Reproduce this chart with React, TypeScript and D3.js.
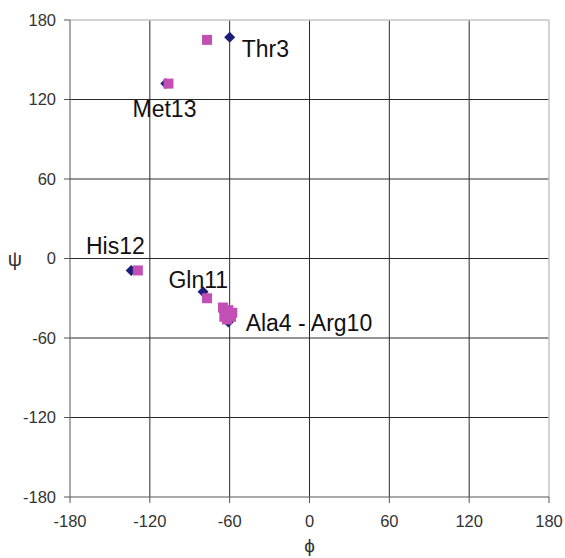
import React from "react";
import * as d3 from "d3";

const residuesA = ["Thr3", "Ala4", "Lys5", "Phe6", "Glu7", "Arg8", "Gln9", "Arg10", "Gln11", "His12", "Met13"];
const phiA = [-60, -62, -60, -63, -61, -59, -64, -61, -80, -134, -108];
const psiA = [167, -40, -43, -45, -48, -42, -41, -46, -25, -9, 132];
const phiB = [-77, -65, -61, -63, -59, -62, -58, -64, -77, -129, -106];
const psiB = [165, -37, -39, -42, -44, -46, -41, -44, -30, -9, 132];

const labelText = ["Thr3", "Met13", "His12", "Gln11", "Ala4 - Arg10"];
const labelPhi = [-51, -133, -168, -106, -48];
const labelPsi = [152, 107, 3.5, -22, -55];

const ticks = [-180, -120, -60, 0, 60, 120, 180];

const W = 565, H = 558;
const left = 70, right = 549, top = 20, bottom = 497;

export default function App() {
  const x = d3.scaleLinear().domain([-180, 180]).range([left, right]);
  const y = d3.scaleLinear().domain([-180, 180]).range([bottom, top]);
  const font = "'Liberation Sans', Arial, sans-serif";
  const sq = 10;
  const dia = "M0,-5.5L5.5,0L0,5.5L-5.5,0Z";
  return (
    <svg width={W} height={H} style={{ position: "absolute", left: 0, top: 0, background: "#fff" }}>
      {ticks.slice(1, -1).map((t) => (
        <g key={"g" + t}>
          <line x1={x(t)} x2={x(t)} y1={top} y2={bottom} stroke="#2a2a2a" strokeWidth={1} />
          <line x1={left} x2={right} y1={y(t)} y2={y(t)} stroke="#2a2a2a" strokeWidth={1} />
        </g>
      ))}
      <line x1={left} x2={right} y1={top} y2={top} stroke="#c4c4c4" strokeWidth={1.5} />
      <line x1={right} x2={right} y1={top} y2={bottom} stroke="#c4c4c4" strokeWidth={1.5} />
      <line x1={left} x2={left} y1={top} y2={bottom} stroke="#555" strokeWidth={1} />
      <line x1={left} x2={right} y1={bottom} y2={bottom} stroke="#555" strokeWidth={1} />
      {ticks.map((t) => (
        <g key={"t" + t}>
          <line x1={left - 6} x2={left} y1={y(t)} y2={y(t)} stroke="#555" />
          <line x1={x(t)} x2={x(t)} y1={bottom} y2={bottom + 6} stroke="#555" />
          <text x={left - 14} y={y(t)} dy="0.35em" textAnchor="end" fontFamily={font} fontSize={16.5} fill="#333">{t}</text>
          <text x={x(t)} y={bottom + 30} textAnchor="middle" fontFamily={font} fontSize={16.5} fill="#333">{t}</text>
        </g>
      ))}
      <text x={15} y={y(0)} dy="0.35em" textAnchor="middle" fontFamily={font} fontSize={20} fill="#333">ψ</text>
      <text x={x(0)} y={552} textAnchor="middle" fontFamily={font} fontSize={19} fill="#333">ϕ</text>
      {residuesA.map((r, i) => (
        <path key={"a" + r} d={dia} transform={`translate(${x(phiA[i])},${y(psiA[i])})`} fill="#1e1e78" />
      ))}
      {residuesA.map((r, i) => (
        <rect key={"b" + r} x={x(phiB[i]) - sq / 2} y={y(psiB[i]) - sq / 2} width={sq} height={sq} fill="#c24fb4" />
      ))}
      {labelText.map((t, i) => (
        <text key={t} x={x(labelPhi[i])} y={y(labelPsi[i])} fontFamily={font} fontSize={23} fill="#111">{t}</text>
      ))}
    </svg>
  );
}
